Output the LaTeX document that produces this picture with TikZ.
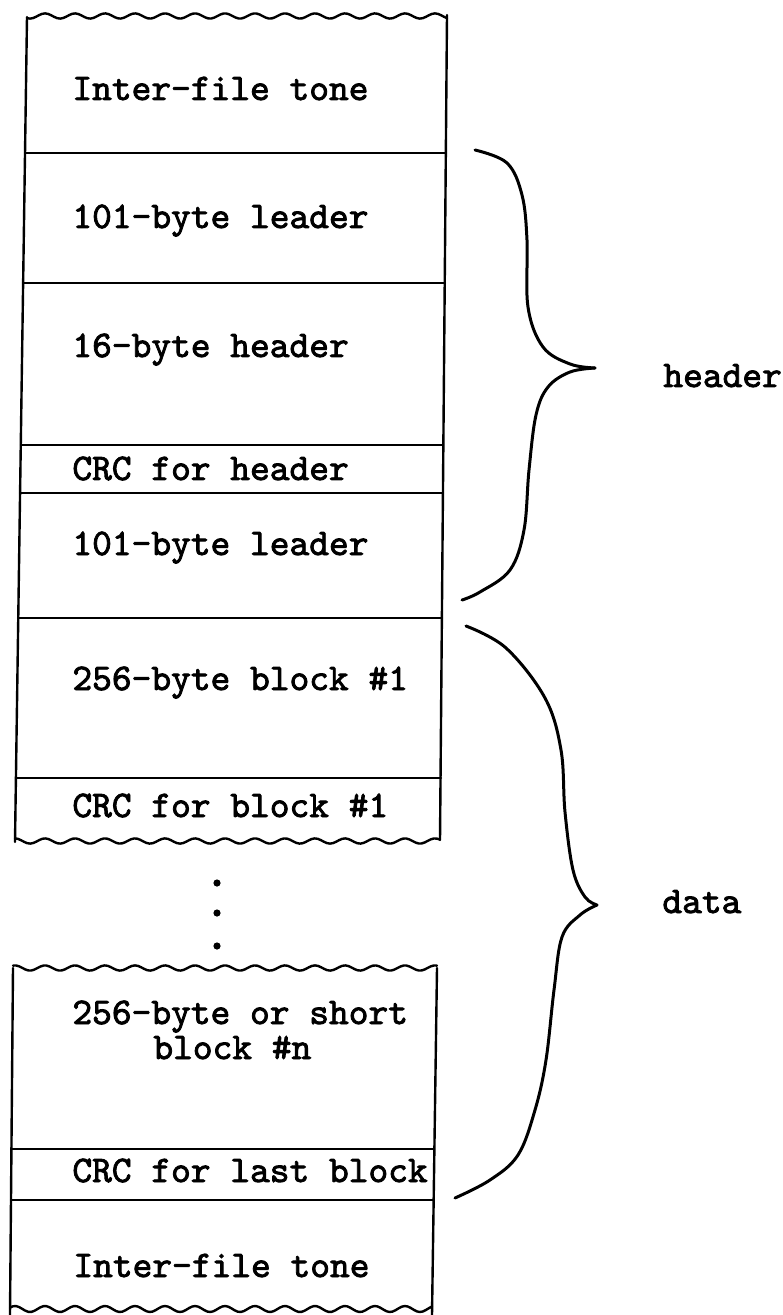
\documentclass[tikz,border=0pt]{standalone}
\usepackage{fontspec}
\newfontfamily\tw{lmmono10-regular.otf}[RawFeature={embolden=2.2}]
\begin{document}
\begin{tikzpicture}[x=0.5pt,y=-0.5pt,
  edge/.style={line width=1.2pt,line join=round,line cap=round},
  brace/.style={line width=1.5pt,line cap=round},
  lbl/.style={anchor=base west,inner sep=0pt,font=\tw\fontsize{18.8pt}{22pt}\selectfont}]
\useasboundingbox (0,0) rectangle (782,1315);
% ---- upper strip ----
\coordinate (utl) at (27,17);
\coordinate (utr) at (447,15);
\coordinate (ubl) at (15,842);
\coordinate (ubr) at (440,840);
\draw[edge] (utl) -- (ubl);
\draw[edge] (utr) -- (ubr);
\draw[edge] plot[domain=27:447,samples=140,smooth] (\x,{16+2.6*sin(12*\x+90)});
\draw[edge] plot[domain=15:440,samples=140,smooth] (\x,{841+2.6*sin(12*\x+90)});
\draw[edge] (25,153) -- (446,153);
\draw[edge] (23,283) -- (445,283);
\draw[edge] (21,445) -- (443,445);
\draw[edge] (20,493) -- (443,493);
\draw[edge] (18,618) -- (442,618);
\draw[edge] (16,778) -- (441,778);
\node[lbl] (t1) at (72,100) {Inter-file tone};
\node[lbl] (t2) at (72,228) {101-byte leader};
\node[lbl] (t3) at (72,357) {16-byte header};
\node[lbl] (t4) at (72,480) {CRC for header};
\node[lbl] (t5) at (72,555) {101-byte leader};
\node[lbl] (t6) at (72,690) {256-byte block \#1};
\node[lbl] (t7) at (72,817) {CRC for block \#1};
% ---- dots ----
\fill (217,883) circle[radius=1.8pt];
\fill (217,913) circle[radius=1.8pt];
\fill (217,946) circle[radius=1.8pt];
% ---- lower strip ----
\coordinate (ltl) at (13,968);
\coordinate (ltr) at (437,968);
\coordinate (lbl) at (10,1315);
\coordinate (lbr) at (432,1315);
\draw[edge] (ltl) -- (lbl);
\draw[edge] (ltr) -- (lbr);
\draw[edge] plot[domain=13:437,samples=140,smooth] (\x,{968+2.6*sin(12*\x+90)});
\draw[edge] plot[domain=10:432,samples=140,smooth] (\x,{1309+3*sin(12*\x+90)});
\draw[edge] (12,1149) -- (434,1149);
\draw[edge] (11,1200) -- (433,1200);
\node[lbl] (t8) at (72,1024) {256-byte or short};
\node[lbl] (t9) at (153,1059) {block \#n};
\node[lbl] (t10) at (72,1182) {CRC for last block};
\node[lbl] (t11) at (73,1277) {Inter-file tone};
% ---- braces ----
\coordinate (htip) at (595,368);
\draw[brace] plot[smooth,tension=0.6] coordinates {(475,150) (507,163) (522,195) (527,240) (528,307) (543,347) (570,364) (htip)};
\draw[brace] plot[smooth,tension=0.6] coordinates {(htip) (570,372) (548,387) (536,415) (529,470) (524,530) (510,570) (480,592) (462,600)};
\coordinate (dtip) at (597,905);
\draw[brace] plot[smooth,tension=0.6] coordinates {(466,626) (506,648) (545,698) (561,750) (565,812) (573,870) (585,897) (dtip)};
\draw[brace] plot[smooth,tension=0.6] coordinates {(dtip) (580,915) (562,937) (554,990) (546,1060) (535,1110) (518,1155) (490,1180) (455,1198)};
\node[lbl] (hdr) at (663,387) {header};
\node[lbl] (dat) at (662,913) {data};
\end{tikzpicture}
\end{document}
